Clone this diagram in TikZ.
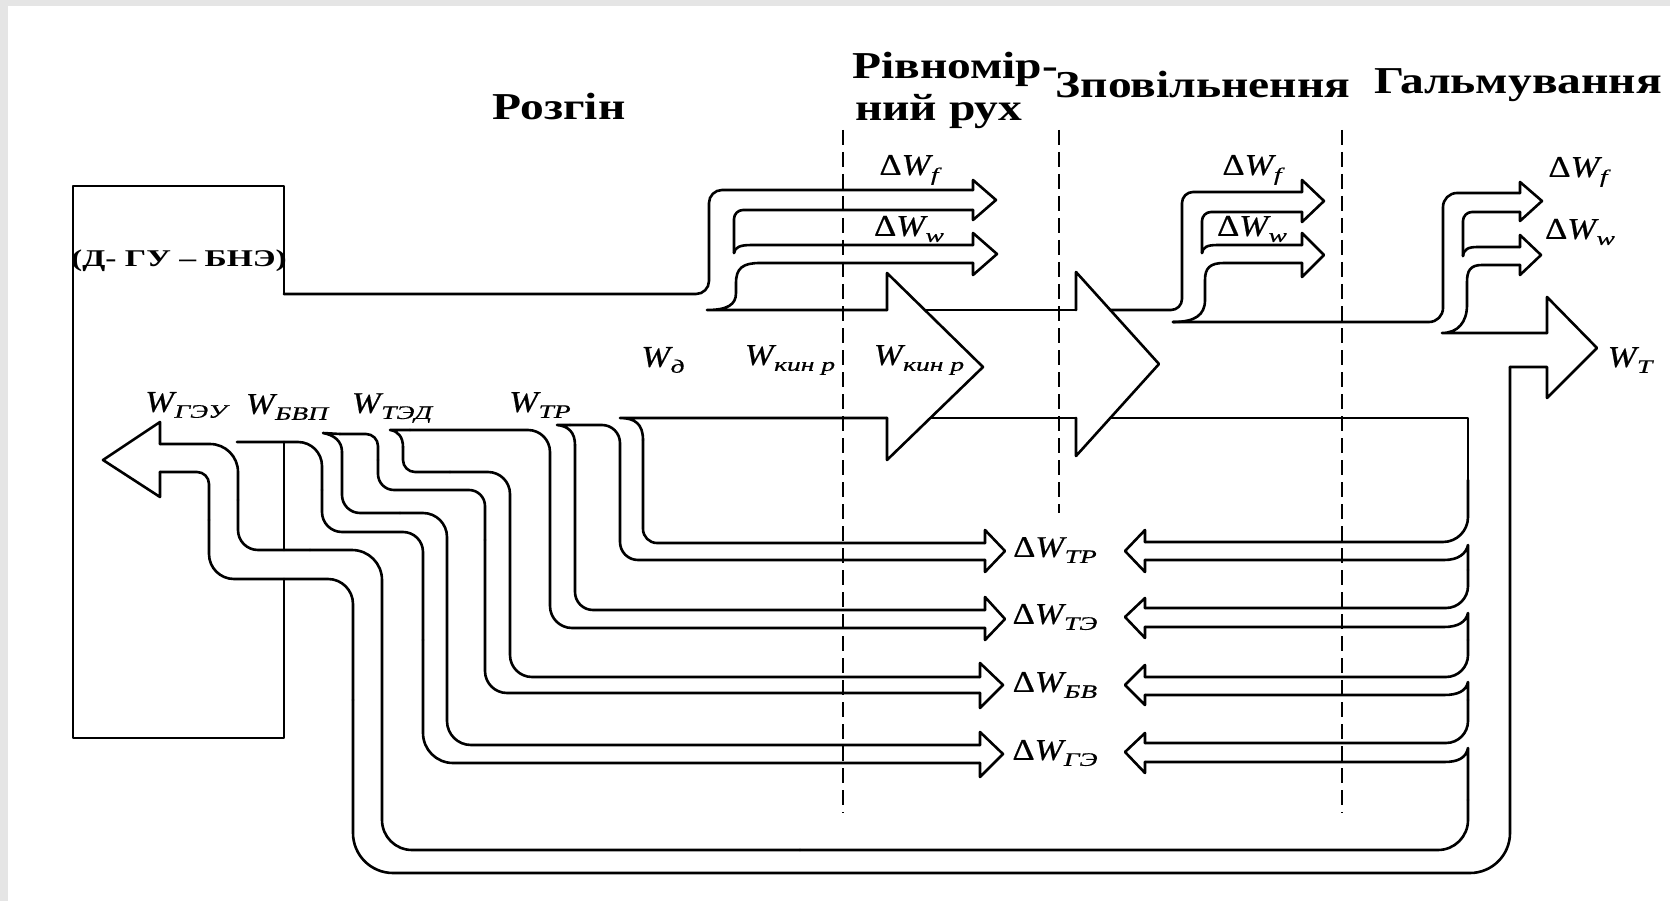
\documentclass[tikz,border=0pt]{standalone}
\usepackage{fontspec}
\setmainfont{Liberation Serif}
\newfontfamily\hfont[FakeStretch=1.25]{Liberation Serif}
\newfontfamily\bxfont[FakeStretch=1.4]{Liberation Serif}
\newfontfamily\lfont[FakeStretch=1.15,FakeBold=0.6]{Liberation Serif}
\newfontfamily\sbfont[FakeStretch=1.45,FakeBold=0.6]{Liberation Serif}
\newcommand{\Wlab}[1]{{\lfont\itshape W}\kern0.5pt\raisebox{-6pt}{\sbfont\fontsize{19}{19}\selectfont\itshape #1}}
\newcommand{\dWlab}[1]{{\lfont Δ}\Wlab{#1}}
\begin{document}
\begin{tikzpicture}[x=1pt,y=-1pt,
  ln/.style={line width=2.6pt,line cap=round,line join=round},
  dsh/.style={line width=2.4pt,dash pattern=on 15pt off 7pt},
  headtxt/.style={font=\hfont\bfseries\fontsize{38}{40}\selectfont, inner sep=0pt},
  lab/.style={font=\lfont\fontsize{30}{32}\selectfont, inner sep=0pt},
  boxtxt/.style={font=\bxfont\bfseries\fontsize{24}{26}\selectfont, inner sep=0pt}]
\useasboundingbox (0,0) rectangle (1670,901);
\fill[black!10] (0,0) rectangle (1670,901);
\fill[white] (8,6) rectangle (1670,901);

% dashed phase borders
\draw[dsh] (843,130) -- (843,813);
\draw[dsh] (1059,130) -- (1059,513);
\draw[dsh] (1342,130) -- (1342,813);

% source box
\draw[ln] (284,294) -- (284,186) -- (73,186) -- (73,738) -- (284,738) -- (284,579);
\draw[ln] (284,442) -- (284,550);

% acceleration branch
\draw[ln, rounded corners=13pt] (284,294) -- (709,294) -- (709,190) -- (973,190);
\draw[ln] (973,190) -- (973,180) -- (996,200) -- (973,220) -- (973,210);
\draw[ln, rounded corners=9pt] (973,210) -- (734,210) -- (734,253);
\draw[ln] (734,253) .. controls (735,247) and (740,245) .. (752,245) -- (973,245);
\draw[ln] (973,245) -- (973,233) -- (997,254) -- (973,275) -- (973,263);
\draw[ln] (973,263) -- (760,263) .. controls (743,263) and (736,268) .. (736,283) -- (736,293) .. controls (736,305) and (727,310) .. (707,310) -- (887,310);
\draw[ln] (887,310) -- (887,273) -- (983,367) -- (887,460) -- (887,418);
\draw[ln] (925,310) -- (1076,310);
\draw[ln] (930,418) -- (1076,418);
\draw[ln] (1076,310) -- (1076,272) -- (1159,364) -- (1076,456) -- (1076,418);

% deceleration branch
\draw[ln, rounded corners=11pt] (1110,310) -- (1182,310) -- (1182,192) -- (1302,192);
\draw[ln] (1302,192) -- (1302,180) -- (1324,201) -- (1302,222) -- (1302,212);
\draw[ln, rounded corners=9pt] (1302,212) -- (1202,212) -- (1202,253);
\draw[ln] (1202,253) .. controls (1203,247) and (1207,245) .. (1218,245) -- (1302,245);
\draw[ln] (1302,245) -- (1302,233) -- (1324,255) -- (1302,277) -- (1302,263);
\draw[ln] (1302,263) -- (1224,263) .. controls (1210,263) and (1205,268) .. (1205,280) -- (1205,300) .. controls (1205,315) and (1195,322) .. (1173,322);

% braking branch
\draw[ln, rounded corners=14pt] (1173,322) -- (1443,322) -- (1443,193) -- (1520,193);
\draw[ln] (1520,193) -- (1520,182) -- (1542,201) -- (1520,221) -- (1520,212);
\draw[ln, rounded corners=9pt] (1520,212) -- (1463,212) -- (1463,256);
\draw[ln] (1463,256) .. controls (1464,249) and (1468,247) .. (1478,247) -- (1520,247);
\draw[ln] (1520,247) -- (1520,235) -- (1541,255) -- (1520,275) -- (1520,265);
\draw[ln] (1520,265) -- (1482,265) .. controls (1470,265) and (1467,271) .. (1467,282) -- (1467,305) .. controls (1467,322) and (1458,333) .. (1442,333) -- (1547,333);
\draw[ln] (1547,333) -- (1547,297) -- (1597,348) -- (1547,398) -- (1547,367) -- (1510,367);

% outer loop (W_T back to ГЭУ)
\draw[ln, rounded corners=40pt] (1510,367) -- (1510,873) -- (353,873) -- (353,700);
\draw[ln, rounded corners=25pt] (353,700) -- (353,579) -- (209,579) -- (209,520);
\draw[ln, rounded corners=12pt] (209,520) -- (209,472) -- (160,472);
\draw[ln] (160,472) -- (160,497) -- (103,460) -- (160,422) -- (160,444);
\draw[ln, rounded corners=28pt] (160,444) -- (238,444) -- (238,500);
\draw[ln, rounded corners=20pt] (238,500) -- (238,550) -- (310,550);
\draw[ln, rounded corners=30pt] (310,550) -- (382,550) -- (382,850) -- (800,850);
\draw[ln, rounded corners=30pt] (800,850) -- (1468,850) -- (1468,800);

% braking losses (left arrows)
\draw[ln] (1468,800) -- (1468,748) .. controls (1466,758) and (1458,762) .. (1444,762) -- (1145,762);
\draw[ln] (1145,762) -- (1145,773) -- (1125,752) -- (1145,733) -- (1145,743);
\draw[ln, rounded corners=22pt] (1145,743) -- (1468,743) -- (1468,700);
\draw[ln] (1468,700) -- (1468,682) .. controls (1466,691) and (1458,695) .. (1444,695) -- (1145,695);
\draw[ln] (1145,695) -- (1145,705) -- (1125,685) -- (1145,665) -- (1145,677);
\draw[ln, rounded corners=22pt] (1145,677) -- (1468,677) -- (1468,640);
\draw[ln] (1468,640) -- (1468,613) .. controls (1466,622) and (1458,627) .. (1444,627) -- (1145,627);
\draw[ln] (1145,627) -- (1145,638) -- (1125,617) -- (1145,598) -- (1145,608);
\draw[ln, rounded corners=22pt] (1145,608) -- (1468,608) -- (1468,570);
\draw[ln] (1468,570) -- (1468,545) .. controls (1466,554) and (1458,560) .. (1444,560) -- (1145,560);
\draw[ln] (1145,560) -- (1145,572) -- (1125,551) -- (1145,530) -- (1145,542);
\draw[ln, rounded corners=25pt] (1145,542) -- (1468,542) -- (1468,480);
\draw[ln] (1468,480) -- (1468,418) -- (1110,418);

% traction losses (right arrows)
\draw[ln] (887,418) -- (620,418) .. controls (635,418) and (643,424) .. (643,440);
\draw[ln, rounded corners=14pt] (643,440) -- (643,543) -- (985,543);
\draw[ln] (985,543) -- (985,530) -- (1005,551) -- (985,572) -- (985,560);
\draw[ln, rounded corners=18pt] (985,560) -- (620,560) -- (620,425) -- (570,425);
\draw[ln] (570,425) -- (557,425) .. controls (568,426) and (575,432) .. (575,445);
\draw[ln, rounded corners=18pt] (575,445) -- (575,610) -- (985,610);
\draw[ln] (985,610) -- (985,597) -- (1005,619) -- (985,640) -- (985,628);
\draw[ln, rounded corners=22pt] (985,628) -- (550,628) -- (550,430) -- (410,430);
\draw[ln] (410,430) -- (390,430) .. controls (398,431) and (403,437) .. (403,447);
\draw[ln, rounded corners=12pt] (403,447) -- (403,472) -- (450,472);
\draw[ln, rounded corners=22pt] (450,472) -- (510,472) -- (510,677) -- (980,677);
\draw[ln] (980,677) -- (980,663) -- (1003,685) -- (980,708) -- (980,693);
\draw[ln, rounded corners=22pt] (980,693) -- (485,693) -- (485,540);
\draw[ln, rounded corners=16pt] (485,540) -- (485,490) -- (378,490) -- (378,460);
\draw[ln, rounded corners=12pt] (378,460) -- (378,434) -- (340,434);
\draw[ln] (340,434) -- (323,433) .. controls (334,435) and (342,441) .. (342,452);
\draw[ln, rounded corners=18pt] (342,452) -- (342,513) -- (400,513);
\draw[ln, rounded corners=24pt] (400,513) -- (447,513) -- (447,745) -- (980,745);
\draw[ln] (980,745) -- (980,732) -- (1003,754) -- (980,777) -- (980,763);
\draw[ln, rounded corners=30pt] (980,763) -- (423,763) -- (423,640);
\draw[ln, rounded corners=20pt] (423,640) -- (423,532) -- (322,532) -- (322,490);
\draw[ln, rounded corners=24pt] (322,490) -- (322,442) -- (237,442);

% headings
\node[headtxt] (hRoz) at (559,107) {Розгін};
\node[headtxt, anchor=west] (hRiv1) at (852,69) {Рівномір-};
\node[headtxt, anchor=west] (hRiv2) at (855,112) {ний рух};
\node[headtxt] (hZpov) at (1203,85) {Зповільнення};
\node[headtxt] (hGal) at (1518,85) {Гальмування};
\node[boxtxt] (box) at (179,261) {(Д- ГУ – БНЭ)};

% labels
\node[lab] (dWf1) at (909,170) {\dWlab{f}};
\node[lab] (dWw1) at (909,229) {\dWlab{w}};
\node[lab] (dWf2) at (1252,170) {\dWlab{f}};
\node[lab] (dWw2) at (1252,229) {\dWlab{w}};
\node[lab] (dWf3) at (1578,172) {\dWlab{f}};
\node[lab] (dWw3) at (1580,232) {\dWlab{w}};
\node[lab] (WT) at (1630,360) {\Wlab{T}};
\node[lab] (Wd) at (663,360) {\Wlab{д}};
\node[lab] (Wk1) at (790,360) {\Wlab{кин р}};
\node[lab] (Wk2) at (919,360) {\Wlab{кин р}};
\node[lab] (Wgeu) at (186,405) {\Wlab{ГЭУ}};
\node[lab] (Wbvp) at (287,407) {\Wlab{БВП}};
\node[lab] (Wted) at (392,408) {\Wlab{ТЭД}};
\node[lab] (Wtr) at (540,405) {\Wlab{ТР}};
\node[lab] (dWtr) at (1055,550) {\dWlab{ТР}};
\node[lab] (dWte) at (1055,617) {\dWlab{ТЭ}};
\node[lab] (dWbv) at (1055,685) {\dWlab{БВ}};
\node[lab] (dWge) at (1055,753) {\dWlab{ГЭ}};
\end{tikzpicture}
\end{document}
